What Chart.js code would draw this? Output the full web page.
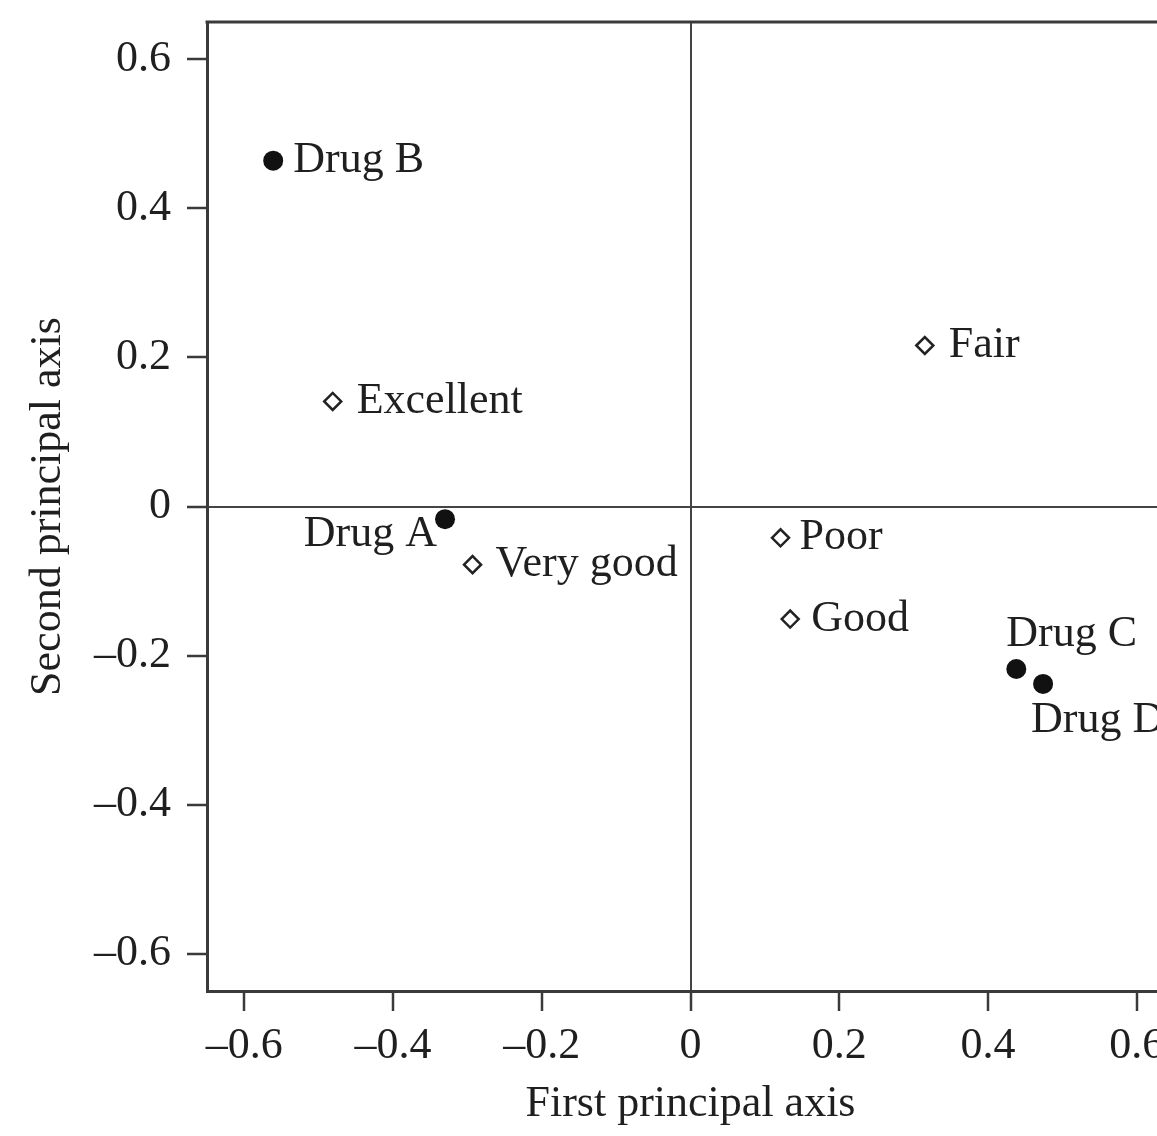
<!DOCTYPE html>
<html>
<head>
<meta charset="utf-8">
<script src="https://cdn.jsdelivr.net/npm/chart.js@4.4.1/dist/chart.umd.min.js"></script>
<style>
  html, body { margin: 0; padding: 0; background: #ffffff; overflow: hidden; }
  #wrap { width: 1200px; height: 1136px; }
</style>
</head>
<body>
<div id="wrap"><canvas id="c" width="1200" height="1136"></canvas></div>
<script>
// ---- data ----
const drugNames = ['Drug A', 'Drug B', 'Drug C', 'Drug D'];
const drugX = [-0.330, -0.561, 0.438, 0.474];
const drugY = [-0.017, 0.464, -0.218, -0.238];

const ratingNames = ['Excellent', 'Very good', 'Good', 'Fair', 'Poor'];
const ratingX = [-0.481, -0.293, 0.134, 0.315, 0.121];
const ratingY = [0.141, -0.078, -0.151, 0.216, -0.042];

const xTicks = [-0.6, -0.4, -0.2, 0, 0.2, 0.4, 0.6];
const yTicks = [-0.6, -0.4, -0.2, 0, 0.2, 0.4, 0.6];
const xTitle = 'First principal axis';
const yTitle = 'Second principal axis';

// ---- label placement (style only) ----
const drugLabelPlace = [
  { dx: -8, dy: 15, align: 'right' },
  { dx: 20, dy: 0, align: 'left' },
  { dx: -10, dy: -35, align: 'left' },
  { dx: -12, dy: 37, align: 'left' }
];
const ratingLabelPlace = [
  { dx: 24, dy: 0, align: 'left' },
  { dx: 23, dy: 0, align: 'left' },
  { dx: 21, dy: 0, align: 'left' },
  { dx: 24, dy: 0, align: 'left' },
  { dx: 19, dy: 0, align: 'left' }
];

const FONT = '"Liberation Serif", "DejaVu Serif", serif';
const INK = '#1f1f1f';
const LINE = '#3a3a3a';

function fmt(v) {
  if (Math.abs(v) < 1e-9) return '0';
  return (v < 0 ? '\u2013' : '') + Math.abs(v).toFixed(1);
}

const labelPlugin = {
  id: 'pointLabels',
  afterDatasetsDraw(chart) {
    const ctx = chart.ctx;
    ctx.save();
    ctx.font = '44px ' + FONT;
    ctx.fillStyle = INK;
    ctx.textBaseline = 'middle';
    const sets = [
      { idx: 0, names: drugNames, place: drugLabelPlace },
      { idx: 1, names: ratingNames, place: ratingLabelPlace }
    ];
    sets.forEach(s => {
      const meta = chart.getDatasetMeta(s.idx);
      meta.data.forEach((pt, i) => {
        const p = s.place[i];
        ctx.textAlign = p.align;
        ctx.fillText(s.names[i], pt.x + p.dx, pt.y + p.dy);
      });
    });
    ctx.restore();
  }
};

const framePlugin = {
  id: 'frame',
  afterDraw(chart) {
    const { ctx, chartArea: a } = chart;
    ctx.save();
    ctx.strokeStyle = LINE;
    ctx.lineWidth = 3;
    ctx.beginPath();
    ctx.moveTo(a.left - 1.5, a.top);
    ctx.lineTo(a.right, a.top);
    ctx.lineTo(a.right, a.bottom);
    ctx.stroke();
    ctx.restore();
  }
};

new Chart(document.getElementById('c'), {
  type: 'scatter',
  data: {
    datasets: [
      {
        label: 'Drugs',
        data: drugX.map((x, i) => ({ x: x, y: drugY[i] })),
        pointStyle: 'circle',
        pointRadius: 10,
        pointHoverRadius: 10,
        backgroundColor: '#111111',
        borderColor: '#111111',
        borderWidth: 0
      },
      {
        label: 'Ratings',
        data: ratingX.map((x, i) => ({ x: x, y: ratingY[i] })),
        pointStyle: 'rectRot',
        pointRadius: 8.5,
        pointHoverRadius: 8.5,
        backgroundColor: '#ffffff',
        borderColor: '#222222',
        borderWidth: 2.5
      }
    ]
  },
  options: {
    responsive: false,
    animation: false,
    devicePixelRatio: 1,
    clip: false,
    layout: { padding: { top: 22, right: 26, left: 0, bottom: 0 } },
    plugins: {
      legend: { display: false },
      tooltip: { enabled: false }
    },
    scales: {
      x: {
        type: 'linear',
        position: 'bottom',
        min: -0.65,
        max: 0.65,
        afterBuildTicks: s => { s.ticks = xTicks.map(v => ({ value: v })); },
        afterFit: s => { s.height = 145; s.paddingLeft = 0; s.paddingRight = 0; },
        ticks: {
          callback: v => fmt(v),
          font: { family: FONT, size: 44 },
          color: INK,
          padding: 9,
          maxRotation: 0,
          autoSkip: false
        },
        grid: {
          drawOnChartArea: true,
          color: c => (c.tick && Math.abs(c.tick.value) < 1e-9) ? '#444444' : 'rgba(0,0,0,0)',
          lineWidth: 2,
          drawTicks: true,
          tickLength: 20,
          tickColor: LINE,
          tickWidth: 2.5
        },
        border: { display: true, color: LINE, width: 3 },
        title: {
          display: true,
          text: xTitle,
          font: { family: FONT, size: 44 },
          color: INK,
          padding: { top: 0, bottom: 5 }
        }
      },
      y: {
        type: 'linear',
        position: 'left',
        min: -0.65,
        max: 0.65,
        afterBuildTicks: s => { s.ticks = yTicks.map(v => ({ value: v })); },
        afterFit: s => { s.width = 207; s.paddingTop = 0; s.paddingBottom = 0; },
        ticks: {
          callback: v => fmt(v),
          font: { family: FONT, size: 44 },
          color: INK,
          padding: 16,
          autoSkip: false
        },
        grid: {
          drawOnChartArea: true,
          color: c => (c.tick && Math.abs(c.tick.value) < 1e-9) ? '#444444' : 'rgba(0,0,0,0)',
          lineWidth: 2,
          drawTicks: true,
          tickLength: 20,
          tickColor: LINE,
          tickWidth: 2.5
        },
        border: { display: true, color: LINE, width: 3 },
        title: {
          display: true,
          text: yTitle,
          font: { family: FONT, size: 44 },
          color: INK,
          padding: { top: 22, bottom: 0 }
        }
      }
    }
  },
  plugins: [labelPlugin, framePlugin]
});
</script>
</body>
</html>
